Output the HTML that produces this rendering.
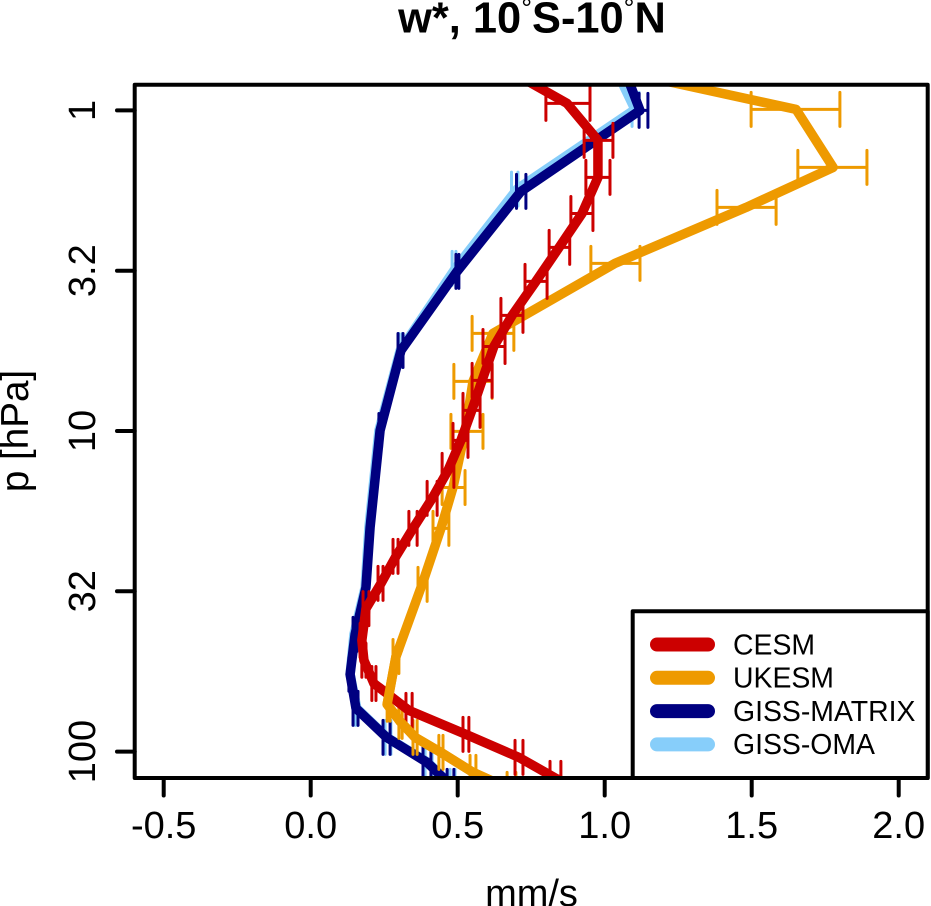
<!DOCTYPE html>
<html lang="en">
<head>
<meta charset="utf-8">
<title>w*, 10°S-10°N</title>
<style>
html,body{margin:0;padding:0;background:#fff;}
svg{display:block;font-family:"Liberation Sans",Arial,sans-serif;}
</style>
</head>
<body>
<svg id="chart" xmlns="http://www.w3.org/2000/svg" width="931" height="906" viewBox="0 0 931 906">
  <defs>
    <clipPath id="plot-clip"><rect x="134.7" y="84.7" width="793" height="693.3"/></clipPath>
    <clipPath id="lower-clip"><rect x="134.7" y="650" width="793" height="128"/></clipPath>
  </defs>
  <rect x="0" y="0" width="931" height="906" fill="#ffffff"/>
  <text x="532" y="32.5" text-anchor="middle" font-size="43.4" font-weight="bold">w*, 10<tspan font-size="27" font-weight="normal" dy="-15">°</tspan><tspan dy="15">S-10</tspan><tspan font-size="27" font-weight="normal" dy="-15">°</tspan><tspan dy="15">N</tspan></text>
  <g id="series-layer" clip-path="url(#plot-clip)"></g>
  <g id="overlay-layer" clip-path="url(#lower-clip)"></g>
  <rect x="134.7" y="84.7" width="793" height="693.3" fill="none" stroke="#000" stroke-width="4" stroke-linejoin="round"/>
  <g id="x-axis"></g>
  <g id="y-axis"></g>
  <text x="531.5" y="906" text-anchor="middle" font-size="38">mm/s</text>
  <text transform="translate(28,431) rotate(-90)" text-anchor="middle" font-size="38.6">p [hPa]</text>
  <g id="legend">
    <rect x="632.7" y="611.3" width="295" height="166.7" fill="#ffffff" stroke="#000" stroke-width="4" stroke-linejoin="round"/>
  </g>
</svg>
<script>
const xTicks = [-0.5, 0, 0.5, 1, 1.5, 2];
const xTickLabels = ["-0.5", "0.0", "0.5", "1.0", "1.5", "2.0"];
const yTicks = [1, 3.162, 10, 31.62, 100];
const yTickLabels = ["1", "3.2", "10", "32", "100"];
const seriesNames = ["GISS-OMA", "GISS-MATRIX", "UKESM", "CESM"];
const legendNames = ["CESM", "UKESM", "GISS-MATRIX", "GISS-OMA"];

const cesmP = [0.698, 0.951, 1.24, 1.618, 2.096, 2.675, 3.415, 4.36, 5.45, 6.95, 8.62, 10.7, 13.27, 16.23, 20.13, 24.6, 29.88, 35.8, 45.0, 51.9, 61.3, 74.4, 88.4, 104.2, 121.2, 142];
const cesmMean = [0.613, 0.872, 0.977, 0.977, 0.923, 0.845, 0.766, 0.685, 0.623, 0.583, 0.548, 0.511, 0.467, 0.413, 0.348, 0.29, 0.239, 0.188, 0.174, 0.181, 0.215, 0.334, 0.528, 0.708, 0.834, 1.018];
const cesmLow = [0.56, 0.8, 0.93, 0.936, 0.885, 0.811, 0.729, 0.647, 0.586, 0.549, 0.518, 0.484, 0.447, 0.396, 0.334, 0.28, 0.229, 0.178, 0.168, 0.174, 0.208, 0.324, 0.518, 0.695, 0.814, 1.0];
const cesmHigh = [0.67, 0.95, 1.028, 1.018, 0.96, 0.881, 0.804, 0.722, 0.661, 0.617, 0.576, 0.535, 0.487, 0.43, 0.362, 0.297, 0.246, 0.198, 0.181, 0.188, 0.222, 0.345, 0.538, 0.722, 0.851, 1.04];

const ukesmP = [0.698, 0.993, 1.506, 2.007, 3.0, 4.96, 7.0, 10.03, 15.0, 20.13, 30.1, 50.5, 71.2, 80.5, 90.3, 100.6, 116.1, 131.2];
const ukesmMean = [0.884, 1.651, 1.777, 1.481, 1.035, 0.62, 0.552, 0.525, 0.484, 0.443, 0.379, 0.29, 0.26, 0.304, 0.355, 0.443, 0.552, 0.681];
const ukesmLow = [0.8, 1.498, 1.657, 1.382, 0.953, 0.549, 0.487, 0.477, 0.447, 0.416, 0.365, 0.28, 0.26, 0.3, 0.348, 0.436, 0.542, 0.668];
const ukesmHigh = [0.97, 1.8, 1.892, 1.583, 1.12, 0.691, 0.617, 0.586, 0.525, 0.47, 0.396, 0.3, 0.27, 0.311, 0.362, 0.45, 0.562, 0.698];

const matrixP = [0.698, 1.0, 1.789, 3.178, 5.61, 9.96, 19.99, 30.75, 43.1, 57.4, 73.3, 90.3, 108.1, 128.4];
const matrixMean = [1.055, 1.12, 0.715, 0.498, 0.307, 0.236, 0.202, 0.188, 0.151, 0.134, 0.154, 0.258, 0.396, 0.481];
const matrixLow = [1.04, 1.117, 0.7, 0.494, 0.297, 0.232, 0.198, 0.181, 0.144, 0.13, 0.144, 0.246, 0.382, 0.464];
const matrixHigh = [1.07, 1.147, 0.732, 0.504, 0.314, 0.241, 0.208, 0.195, 0.157, 0.14, 0.161, 0.27, 0.409, 0.487];

const omaP = [0.698, 0.993, 1.76, 3.11, 5.61, 9.96, 19.99, 30.75, 43.1, 57.4, 73.3, 90.3, 108.1, 128.4];
const omaMean = [1.023, 1.103, 0.702, 0.492, 0.304, 0.232, 0.198, 0.185, 0.147, 0.134, 0.157, 0.26, 0.399, 0.481];
const omaLow = [1.01, 1.093, 0.683, 0.481, 0.3, 0.234, 0.198, 0.185, 0.147, 0.134, 0.151, 0.253, 0.389, 0.474];
const omaHigh = [1.03, 1.117, 0.705, 0.494, 0.311, 0.237, 0.205, 0.191, 0.154, 0.137, 0.159, 0.273, 0.413, 0.491];

const NS = "http://www.w3.org/2000/svg";
const COLORS = {"CESM": "#cc0000", "UKESM": "#ee9a00", "GISS-MATRIX": "#000080", "GISS-OMA": "#87cefa"};
const CAP = 17;
const LINE_WIDTH = 9.5;

function xScale(v) { return 310.7 + 294 * v; }
function yScale(p) { return 110.4 + 320.6 * Math.log10(p); }
function slug(s) { return s.toLowerCase().replace(/[^a-z0-9]+/g, "-"); }
function make(tag, parent, attrs) {
  const el = document.createElementNS(NS, tag);
  for (const k in attrs) el.setAttribute(k, attrs[k]);
  parent.appendChild(el);
  return el;
}
function linePoints(ps, means) {
  return means.map((m, i) => xScale(m).toFixed(2) + "," + yScale(ps[i]).toFixed(2)).join(" ");
}

const layer = document.getElementById("series-layer");
const overlay = document.getElementById("overlay-layer");
const seriesData = {
  "GISS-OMA": [omaP, omaMean, omaLow, omaHigh],
  "GISS-MATRIX": [matrixP, matrixMean, matrixLow, matrixHigh],
  "UKESM": [ukesmP, ukesmMean, ukesmLow, ukesmHigh],
  "CESM": [cesmP, cesmMean, cesmLow, cesmHigh]
};

seriesNames.forEach(function (name) {
  const d = seriesData[name];
  const color = COLORS[name];
  const g = make("g", layer, {});
  
  
  const line = make("polyline", g, {points: linePoints(d[0], d[1]), fill: "none", stroke: color, "stroke-width": LINE_WIDTH, "stroke-linejoin": "round", "stroke-linecap": "round"});
  
  
  d[0].forEach(function (p, i) {
    const y = yScale(p), x0 = xScale(d[2][i]), x1 = xScale(d[3][i]);
    const bar = make("path", g, {
      d: "M" + x0 + " " + y + "H" + x1 + "M" + x0 + " " + (y - CAP) + "V" + (y + CAP) + "M" + x1 + " " + (y - CAP) + "V" + (y + CAP),
      fill: "none", stroke: color, "stroke-width": 3, "stroke-linecap": "round"
    });
    
    
  });
});

const lowerUkesm = make("polyline", overlay, {points: linePoints(ukesmP, ukesmMean), fill: "none", stroke: COLORS["UKESM"], "stroke-width": LINE_WIDTH, "stroke-linejoin": "round", "stroke-linecap": "round"});



const xAxis = document.getElementById("x-axis");
xTicks.forEach(function (v, i) {
  const x = xScale(v);
  const t = make("line", xAxis, {x1: x, x2: x, y1: 778, y2: 795.5, stroke: "#000", "stroke-width": 4, "stroke-linecap": "round"});
  
  
  const lab = make("text", xAxis, {x: x, y: 838, "text-anchor": "middle", "font-size": 38});
  
  
  lab.textContent = xTickLabels[i];
});

const yAxis = document.getElementById("y-axis");
yTicks.forEach(function (p, i) {
  const y = yScale(p);
  const t = make("line", yAxis, {x1: 134.7, x2: 117, y1: y, y2: y, stroke: "#000", "stroke-width": 4, "stroke-linecap": "round"});
  
  
  const lab = make("text", yAxis, {transform: "translate(95," + y + ") rotate(-90)", "text-anchor": "middle", "font-size": 38});
  
  
  lab.textContent = yTickLabels[i];
});

const legend = document.getElementById("legend");
legendNames.forEach(function (name, i) {
  const y = 644.5 + i * 33.3;
  const g = make("g", legend, {});
  
  
  const sw = make("line", g, {x1: 657, x2: 708, y1: y, y2: y, stroke: COLORS[name], "stroke-width": 14, "stroke-linecap": "round"});
  
  
  const tx = make("text", g, {x: 733, y: y + 9.8, "font-size": 28.4});
  
  
  tx.textContent = name;
});
</script>
</body>
</html>
